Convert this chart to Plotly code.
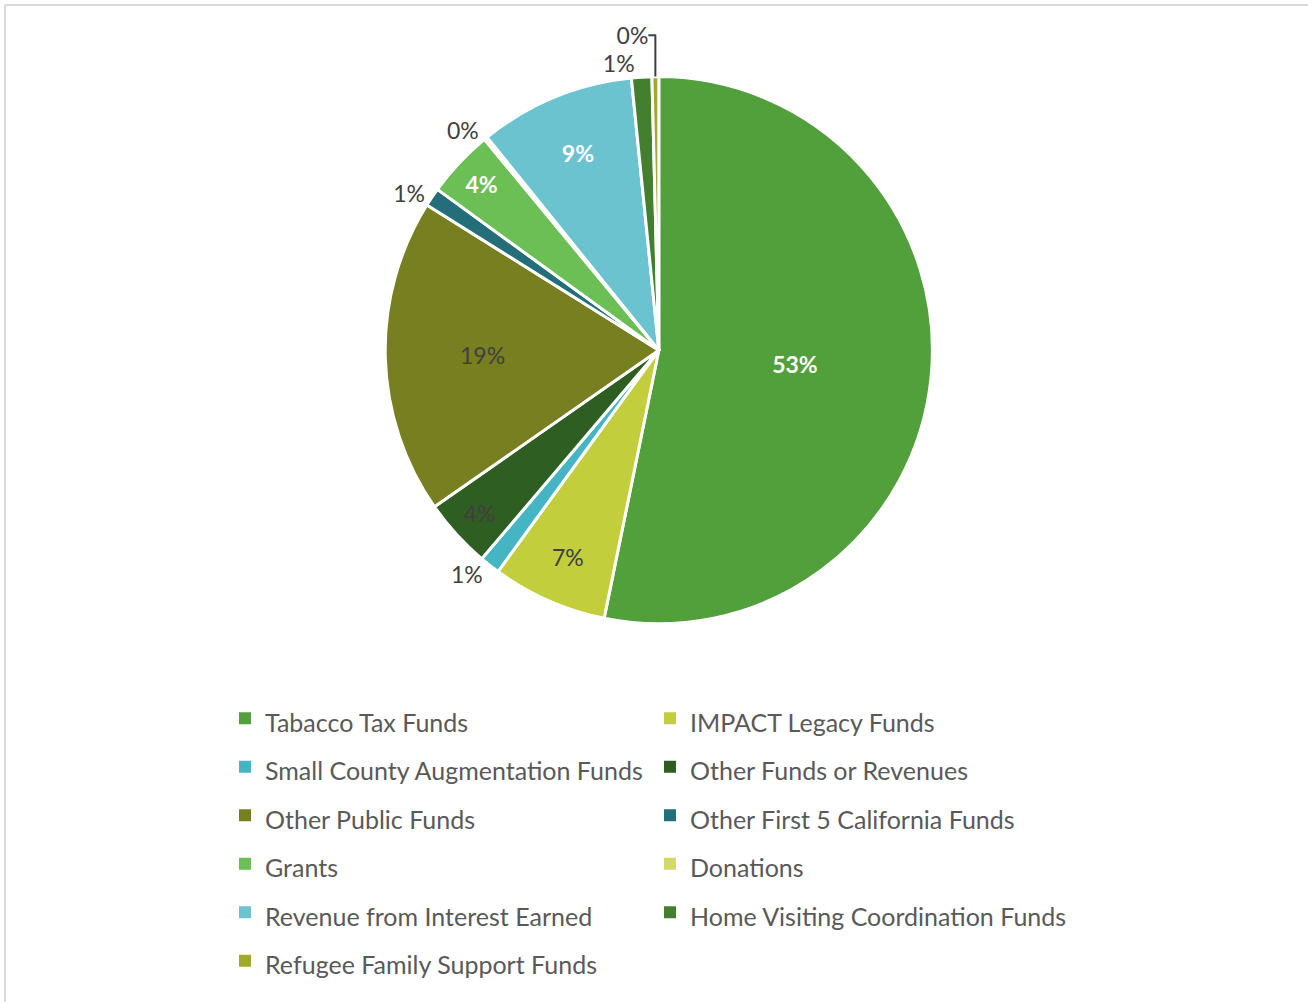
import plotly.graph_objects as go

categories = [
    "Tabacco Tax Funds",
    "IMPACT Legacy Funds",
    "Small County Augmentation Funds",
    "Other Funds or Revenues",
    "Other Public Funds",
    "Other First 5 California Funds",
    "Grants",
    "Donations",
    "Revenue from Interest Earned",
    "Home Visiting Coordination Funds",
    "Refugee Family Support Funds",
]
values = [53.2, 6.8, 1.2, 4.1, 18.6, 1.1, 4.0, 0.2, 9.2, 1.2, 0.4]
colors = ["#52A03B", "#C2CE3C", "#45B5C4", "#2F5E22", "#777F21", "#236E78",
          "#6BBF55", "#D3DA65", "#6BC3CF", "#437F2E", "#A2A82B"]
text_pos = ["inside", "inside", "outside", "inside", "inside", "outside",
            "inside", "outside", "inside", "outside", "outside"]
bold = [True, False, False, False, False, False, True, False, True, False, False]
text_col = ["white", "#404040", "#404040", "#404040", "#404040", "#404040",
            "white", "#404040", "white", "#404040", "#404040"]

FONT = "Lato, Carlito, Calibri, sans-serif"
W, H = 1308, 1002
ML, MR = 225, 183
GW = W - ML - MR

templates = ["<b>%{percent:.0%}</b>" if b else "%{percent:.0%}" for b in bold]
legend_names = ['<span style="font-size:25px">' + c + "</span>" for c in categories]

pie_dom = dict(x=[0.178, 0.786], y=[0.377, 0.924])
cx = (pie_dom["x"][0] + pie_dom["x"][1]) / 2
cy = (pie_dom["y"][0] + pie_dom["y"][1]) / 2

fig = go.Figure()
# legend-only copy of the pie (tiny, hidden under the main pie's centre) so that
# legend swatches are drawn without the white slice borders
fig.add_trace(
    go.Pie(
        labels=legend_names,
        values=values,
        sort=False,
        direction="clockwise",
        marker=dict(colors=colors, line=dict(width=0)),
        textinfo="none",
        hoverinfo="skip",
        domain=dict(x=[cx - 0.0004, cx + 0.0004], y=[cy - 0.0004, cy + 0.0004]),
        showlegend=True,
    )
)
fig.add_trace(
    go.Pie(
        labels=legend_names,
        values=values,
        sort=False,
        direction="clockwise",
        rotation=0,
        marker=dict(colors=colors, line=dict(color="white", width=3)),
        textposition=text_pos,
        texttemplate=templates,
        textfont=dict(family=FONT, size=23, color=text_col),
        insidetextorientation="horizontal",
        outsidetextfont=dict(family=FONT, size=23, color="#404040"),
        hoverinfo="percent",
        domain=pie_dom,
        showlegend=False,
    )
)


def px_x(p):
    return (p - ML) / GW


fig.update_layout(
    width=W,
    height=H,
    margin=dict(l=ML, r=MR, t=0, b=0, autoexpand=False),
    paper_bgcolor="white",
    plot_bgcolor="white",
    font=dict(family=FONT, color="#595959"),
    legend=dict(
        orientation="h",
        x=0,
        xanchor="left",
        y=1 - 689 / H,
        yanchor="top",
        entrywidth=380,
        entrywidthmode="pixels",
        font=dict(family=FONT, size=35, color="#595959"),
        traceorder="normal",
        bgcolor="rgba(0,0,0,0)",
    ),
    shapes=[
        dict(type="line", xref="paper", yref="paper", x0=px_x(5), x1=px_x(W),
             y0=1 - 5 / H, y1=1 - 5 / H, line=dict(color="#D9D9D9", width=2)),
        dict(type="line", xref="paper", yref="paper", x0=px_x(5), x1=px_x(5),
             y0=1 - 5 / H, y1=0, line=dict(color="#D9D9D9", width=2)),
    ],
)

fig.write_html(
    "out.html",
    config={"displayModeBar": False},
    post_script="document.body.style.margin='0px';",
)
